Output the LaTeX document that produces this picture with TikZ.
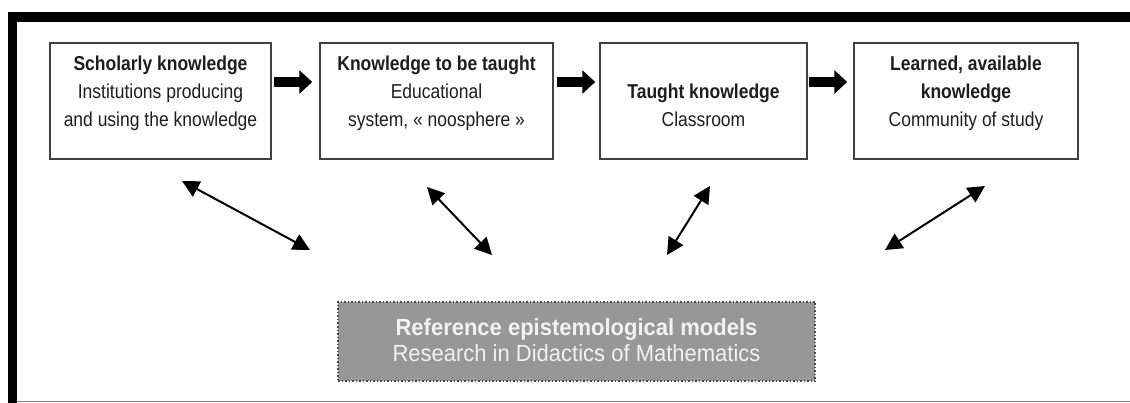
\documentclass[tikz,border=0pt]{standalone}
\usepackage{fontspec}
\setmainfont{Liberation Sans}
\newfontfamily\topf[FakeStretch=0.87]{Liberation Sans}
\newfontfamily\botf[FakeStretch=0.94]{Liberation Sans}
\usetikzlibrary{arrows.meta}
\definecolor{boxline}{HTML}{404040}
\definecolor{txt}{HTML}{1E1E1E}
\definecolor{refgray}{HTML}{979797}
\definecolor{refline}{HTML}{4A4A4A}
\definecolor{reftxt}{HTML}{F2F2F2}
\begin{document}
\begin{tikzpicture}[x=1pt,y=-1pt,
  kbox/.style={draw=boxline,line width=1.5pt,fill=white,inner sep=0pt,minimum height=116pt},
  ttl/.style={anchor=base,inner sep=0pt,text=txt,font=\topf\bfseries\fontsize{20.1}{23}\selectfont},
  sub/.style={anchor=base,inner sep=0pt,text=txt,font=\topf\fontsize{20.1}{23}\selectfont},
  fatarrow/.style={line width=10pt,draw=black,-{Triangle[length=13pt,width=23pt]}},
  dblarrow/.style={line width=2pt,draw=black,{Triangle[length=17pt,width=17pt]}-{Triangle[length=17pt,width=17pt]}},
  refbox/.style={draw=refline,line width=1.5pt,dotted,fill=refgray,inner sep=0pt,minimum width=477pt,minimum height=79pt},
  rttl/.style={anchor=base,inner sep=0pt,text=reftxt,font=\botf\bfseries\fontsize{23.4}{27}\selectfont},
  rsub/.style={anchor=base,inner sep=0pt,text=reftxt,font=\botf\fontsize{23.4}{27}\selectfont}]
\useasboundingbox (0,0) rectangle (1130,403);
% frame
\fill[black] (8,12) rectangle (1130,22);
\fill[black] (8,12) rectangle (17,403);
\draw[gray,line width=1.5pt] (17,401.5) -- (1130,401.5);
% boxes
\node[kbox,minimum width=221pt] (b1) at (160.5,101) {};
\node[kbox,minimum width=233pt] (b2) at (436.5,101) {};
\node[kbox,minimum width=207pt] (b3) at (703.5,101) {};
\node[kbox,minimum width=224pt] (b4) at (966,101) {};
% texts
\node[ttl] (t1a) at (160.5,71) {Scholarly knowledge};
\node[sub] (t1b) at (160.5,99) {Institutions producing};
\node[sub] (t1c) at (160.5,126.5) {and using the knowledge};
\node[ttl] (t2a) at (436.5,71) {Knowledge to be taught};
\node[sub] (t2b) at (436.5,99) {Educational};
\node[sub] (t2c) at (436.5,126.5) {system, « noosphere »};
\node[ttl] (t3a) at (703.5,99) {Taught knowledge};
\node[sub] (t3b) at (703.5,126.5) {Classroom};
\node[ttl] (t4a) at (966,71) {Learned, available};
\node[ttl] (t4b) at (966,99) {knowledge};
\node[sub] (t4c) at (966,126.5) {Community of study};
% fat arrows
\coordinate (ay) at (0,82);
\draw[fatarrow,shorten <=2pt,shorten >=7pt] (b1.east |- ay) -- (b2.west |- ay);
\draw[fatarrow,shorten <=3pt,shorten >=4pt] (b2.east |- ay) -- (b3.west |- ay);
\draw[fatarrow,shorten <=1pt,shorten >=6pt] (b3.east |- ay) -- (b4.west |- ay);
% reference box
\node[refbox] (r) at (576.5,341.5) {};
\node[rttl] (ra) at (576.5,335) {Reference epistemological models};
\node[rsub] (rb) at (576.5,362) {Research in Didactics of Mathematics};
% double arrows
\coordinate (a1s) at (182,181); \coordinate (a1e) at (310,250);
\coordinate (a2s) at (427,187); \coordinate (a2e) at (492,255);
\coordinate (a3s) at (710,186); \coordinate (a3e) at (667,255);
\coordinate (a4s) at (985,186); \coordinate (a4e) at (885,250);
\draw[dblarrow] (a1s) -- (a1e);
\draw[dblarrow] (a2s) -- (a2e);
\draw[dblarrow] (a3s) -- (a3e);
\draw[dblarrow] (a4s) -- (a4e);
\end{tikzpicture}
\end{document}
